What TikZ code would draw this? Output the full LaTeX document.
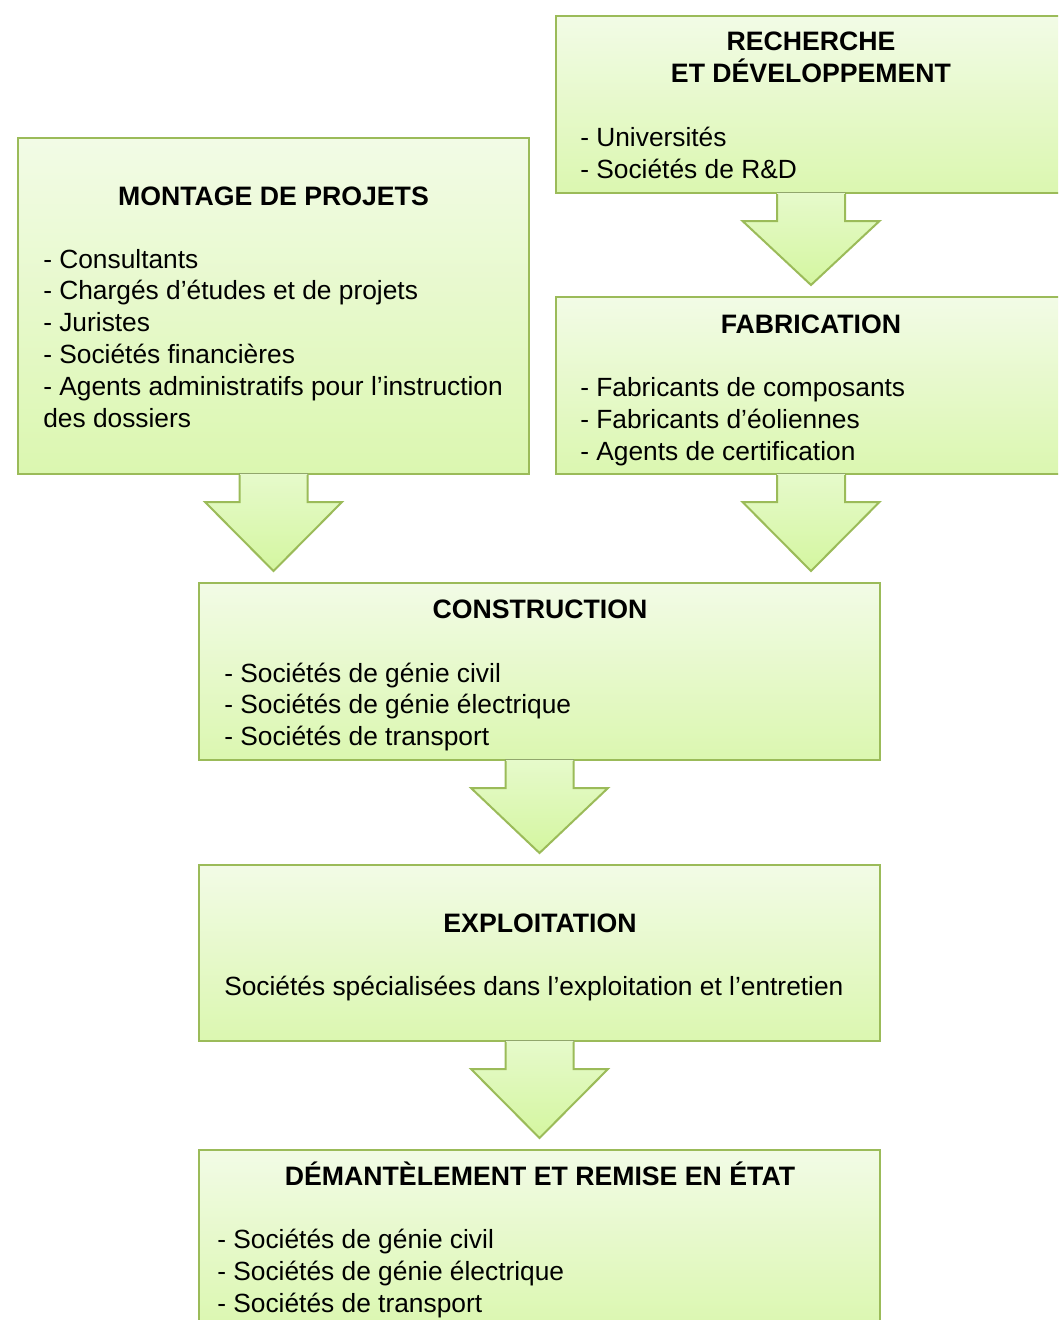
\documentclass[tikz,border=0pt]{standalone}
\usepackage{fontspec}
\setmainfont{Liberation Sans}
\usetikzlibrary{calc}
\definecolor{edge}{HTML}{9BBB59}
\definecolor{boxtop}{HTML}{F2FBE6}
\definecolor{boxbot}{HTML}{DBF7B0}
\definecolor{arrtop}{HTML}{E6FACB}
\definecolor{arrbot}{HTML}{D4F6A0}
\newcommand\blockarrow[2]{%
  \fill[arrfill] ([shift={(-34,-1.5)}]#1.south) -- ([shift={(-34,27)}]#1.south)
     -- ([shift={(-68.5,27)}]#1.south) -- ($(#1.south |- #2.north)+(0,-11)$)
     -- ([shift={(68.5,27)}]#1.south) -- ([shift={(34,27)}]#1.south)
     -- ([shift={(34,-1.5)}]#1.south) -- cycle;
  \draw[arrline] ([shift={(-34,0)}]#1.south) -- ([shift={(-34,27)}]#1.south)
     -- ([shift={(-68.5,27)}]#1.south) -- ($(#1.south |- #2.north)+(0,-11)$)
     -- ([shift={(68.5,27)}]#1.south) -- ([shift={(34,27)}]#1.south)
     -- ([shift={(34,0)}]#1.south);}
\begin{document}
\begin{tikzpicture}[x=0.75pt,y=-0.75pt,
  box/.style={rectangle,draw=edge,line width=1.5pt,top color=boxtop,bottom color=boxbot,inner sep=0pt},
  ttl/.style={font=\fontsize{20}{24}\selectfont\bfseries,anchor=base,inner sep=0pt},
  itm/.style={font=\fontsize{19.75}{24}\selectfont,anchor=base west,inner sep=0pt},
  arrfill/.style={top color=arrtop,bottom color=arrbot},
  arrline/.style={draw=edge,line width=1.5pt,line join=miter}]
\useasboundingbox (0,0) rectangle (1058,1320);
\clip (0,0) rectangle (1058,1320);
\fill[white] (0,0) rectangle (1058,1320);

% boxes
\node[box,minimum width=382.5pt,minimum height=132.75pt] (rd) at (811,104.5) {};
\node[box,minimum width=383.25pt,minimum height=252pt] (mont) at (273.5,306) {};
\node[box,minimum width=382.5pt,minimum height=132.75pt] (fab) at (811,385.5) {};
\node[box,minimum width=510.75pt,minimum height=132.75pt] (cons) at (539.5,671.5) {};
\node[box,minimum width=510.75pt,minimum height=132pt] (expl) at (539.5,953) {};
\node[box,minimum width=510.75pt,minimum height=132.75pt] (dem) at (539.5,1238.5) {};

% arrows
\blockarrow{rd}{fab}
\blockarrow{mont}{cons}
\blockarrow{fab}{cons}
\blockarrow{cons}{expl}
\blockarrow{expl}{dem}

% R&D
\node[ttl] (rdt1) at (811,51) {RECHERCHE};
\node[ttl] (rdt2) at (811,83) {ET DÉVELOPPEMENT};
\foreach \t [count=\i] in {- Universités,- Sociétés de R\&D}
  \node[itm] (rdi\i) at (580,{146+32*(\i-1)}) {\t};

% Montage
\node[ttl] (mt) at (273.5,205) {MONTAGE DE PROJETS};
\foreach \t [count=\i] in {- Consultants,- Chargés d’études et de projets,- Juristes,- Sociétés financières,- Agents administratifs pour l’instruction,des dossiers}
  \node[itm] (mi\i) at (43,{268+31.8*(\i-1)}) {\t};

% Fabrication
\node[ttl] (ft) at (811,333) {FABRICATION};
\foreach \t [count=\i] in {- Fabricants de composants,- Fabricants d’éoliennes,- Agents de certification}
  \node[itm] (fi\i) at (580,{396+32*(\i-1)}) {\t};

% Construction
\node[ttl] (ct) at (540,618) {CONSTRUCTION};
\foreach \t [count=\i] in {- Sociétés de génie civil,- Sociétés de génie électrique,- Sociétés de transport}
  \node[itm] (ci\i) at (224,{682+31.7*(\i-1)}) {\t};

% Exploitation
\node[ttl] (et) at (540,932) {EXPLOITATION};
\node[itm] (ei1) at (224,995) {Sociétés spécialisées dans l’exploitation et l’entretien};

% Demantelement
\node[ttl] (dt) at (540,1185) {DÉMANTÈLEMENT ET REMISE EN ÉTAT};
\foreach \t [count=\i] in {- Sociétés de génie civil,- Sociétés de génie électrique,- Sociétés de transport}
  \node[itm] (di\i) at (217,{1248+32*(\i-1)}) {\t};
\end{tikzpicture}
\end{document}
